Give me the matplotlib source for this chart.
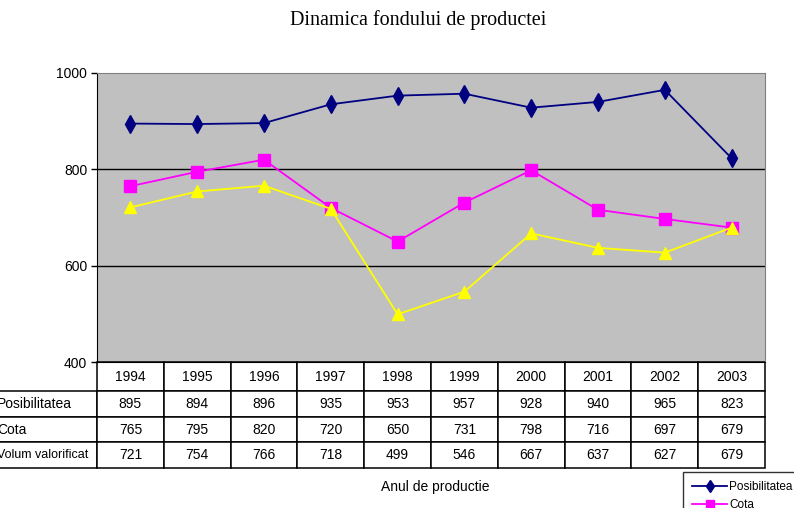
import numpy as np
import matplotlib.pyplot as plt
from matplotlib.table import Table

plt.rcParams['font.family'] = ['Liberation Sans Narrow', 'Liberation Sans', 'DejaVu Sans']

years = ['1994', '1995', '1996', '1997', '1998', '1999', '2000', '2001', '2002', '2003']
posibilitatea = [895, 894, 896, 935, 953, 957, 928, 940, 965, 823]
cota = [765, 795, 820, 720, 650, 731, 798, 716, 697, 679]
volum = [721, 754, 766, 718, 499, 546, 667, 637, 627, 679]
row_labels = ['Posibilitatea', 'Cota', 'Volum valorificat']
yticks = [400, 600, 800, 1000]

W, H = 794, 508
fig = plt.figure(figsize=(W / 100, H / 100), dpi=100)
ax = fig.add_axes([97 / W, 1 - 362 / H, 668 / W, 289 / H])
ax.set_facecolor('#C0C0C0')

x = np.arange(len(years))
ax.plot(x, posibilitatea, color='#000080', marker='d', markersize=9, lw=1.3, label=row_labels[0], zorder=3)
ax.plot(x, cota, color='#FF00FF', marker='s', markersize=8, lw=1.3, label=row_labels[1], zorder=3)
ax.plot(x, volum, color='#FFFF00', marker='^', markersize=9, lw=1.3, label=row_labels[2], zorder=3)

ax.set_xlim(-0.5, len(years) - 0.5)
ax.set_ylim(400, 1000)
ax.set_yticks(yticks)
ax.set_yticklabels([str(v) for v in yticks], fontsize=10)
ax.set_xticks([])
ax.tick_params(axis='y', direction='out', length=4, width=1, pad=3)
for v in yticks[1:-1]:
    ax.axhline(v, color='black', lw=1, zorder=1)
ax.spines['top'].set_color('#808080')
ax.spines['right'].set_color('#808080')
ax.spines['left'].set_color('black')
ax.spines['bottom'].set_color('black')

# data table under the plot
lab_w = 111 / 668
tab_h = 106 / 289
tab = Table(ax, bbox=[-lab_w, -tab_h, 1 + lab_w, tab_h])
col_w = 1.0
for j, yr in enumerate(years):
    tab.add_cell(0, j + 1, col_w, 1.15, text=yr, loc='center')
for i, (name, vals) in enumerate(zip(row_labels, [posibilitatea, cota, volum])):
    tab.add_cell(i + 1, 0, col_w * 111 / 66.8, 1.0, text=name, loc='left')
    for j, v in enumerate(vals):
        tab.add_cell(i + 1, j + 1, col_w, 1.0, text=str(v), loc='center')
tab.auto_set_font_size(False)
tab.set_fontsize(10)
tab[(3, 0)].get_text().set_fontsize(9)
for cell in tab.get_celld().values():
    cell.set_linewidth(1.1)
    cell.set_edgecolor('black')
    cell.set_facecolor('white')
ax.add_table(tab)

fig.text(418 / W, 1 - 20 / H, 'Dinamica fondului de productei', ha='center', va='center',
         fontsize=14.5, family='Liberation Serif')
fig.text(435 / W, 1 - 487 / H, 'Anul de productie', ha='center', va='center', fontsize=10)

leg = fig.legend(loc='upper left', bbox_to_anchor=(683 / W, 1 - 472 / H), fontsize=8.5,
                 frameon=True, fancybox=False, edgecolor='black', borderaxespad=0,
                 handlelength=3.0, handletextpad=0.15, numpoints=1, labelspacing=0.55,
                 borderpad=0.75, markerscale=0.7)
leg.get_frame().set_linewidth(1)

fig.savefig('out.png', dpi=100)
